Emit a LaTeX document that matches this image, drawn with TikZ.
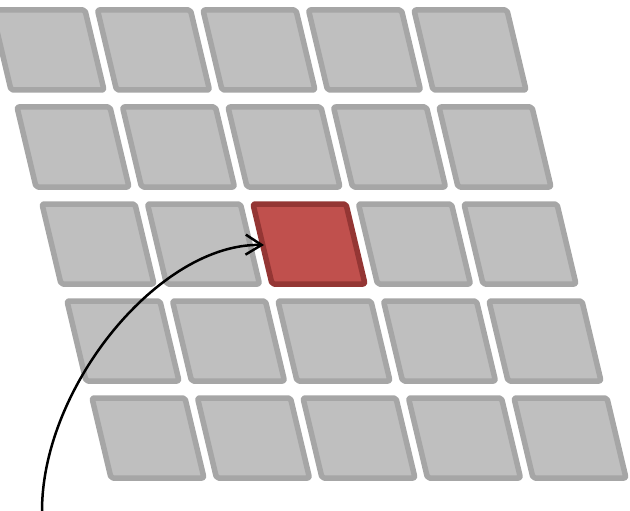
\documentclass[tikz,border=0pt]{standalone}
\usetikzlibrary{arrows.meta}
\definecolor{cellfill}{HTML}{BFBFBF}
\definecolor{celledge}{HTML}{A6A6A6}
\definecolor{redfill}{HTML}{C0504D}
\definecolor{rededge}{HTML}{943634}
\tikzset{
  cell/.style={draw=celledge, fill=cellfill, line width=5.5pt, rounded corners=2pt, line join=round},
  redcell/.style={draw=rededge, fill=redfill, line width=5.5pt, rounded corners=2pt, line join=round},
  pointer/.style={line width=2.5pt, -{Straight Barb[length=16pt,width=20pt,line width=2.5pt]}}
}
\begin{document}
\begin{tikzpicture}[x=1pt,y=-1pt]
\useasboundingbox (0,0) rectangle (630,511);
\clip (0,0) rectangle (630,511);
\foreach \r in {0,...,4}{
  \foreach \c in {0,...,4}{
    \pgfmathsetmacro{\xx}{-8+25*\r+105.5*\c}
    \pgfmathsetmacro{\yy}{10+97*\r}
    \ifnum\r=2 \ifnum\c=2
      \def\sty{redcell}
    \else \def\sty{cell}\fi
    \else \def\sty{cell}\fi
    \draw[\sty] (\xx,\yy) -- ++(93,0) -- ++(19,80) -- ++(-93,0) -- cycle;
  }
}
\coordinate (start) at (42,511);
\coordinate (target) at (264,245);
\draw[pointer] (start) .. controls (42,386) and (160,243) .. (target);
\end{tikzpicture}
\end{document}
